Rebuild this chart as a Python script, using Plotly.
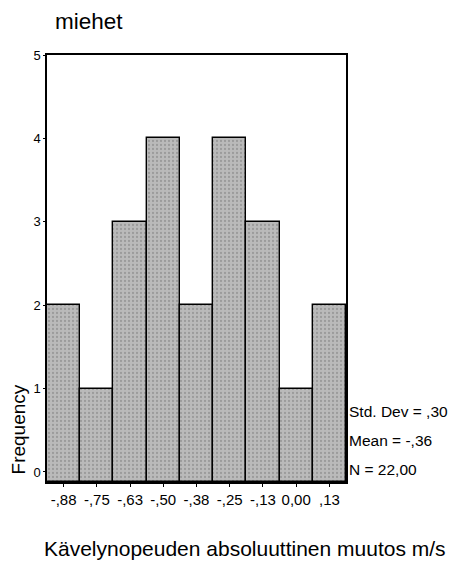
import plotly.graph_objects as go

bin_centers = [-0.875, -0.75, -0.625, -0.5, -0.375, -0.25, -0.125, 0.0, 0.125]
frequencies = [2, 1, 3, 4, 2, 4, 3, 1, 2]
tick_labels = ["-,88", "-,75", "-,63", "-,50", "-,38", "-,25", "-,13", "0,00", ",13"]
stats_lines = ["Std. Dev = ,30", "Mean = -,36", "N = 22,00"]

FONT = "Arial, Liberation Sans, sans-serif"
Y_MIN = -0.12

fig = go.Figure()
fig.add_trace(go.Bar(
    x=bin_centers, y=[f - Y_MIN for f in frequencies], base=Y_MIN, width=0.125,
    marker=dict(color="#b4b4b4", line=dict(color="black", width=1.4),
                pattern=dict(shape=".", fgcolor="#7a7a7a", bgcolor="#bababa", size=4, solidity=0.25)),
    showlegend=False, hoverinfo="skip",
))

# page body has an 8px default margin, so the figure is sized to fit the 456x570 window
fig.update_layout(
    width=448, height=562,
    margin=dict(l=39, r=110, t=47, b=88),
    paper_bgcolor="white", plot_bgcolor="white",
    font=dict(family=FONT, color="black"),
    bargap=0,
    xaxis=dict(range=[-0.9375, 0.1875], tickvals=bin_centers, ticktext=tick_labels,
               showline=True, linecolor="black", linewidth=1.5, mirror=True, automargin=False,
               ticks="outside", ticklen=3, tickcolor="black", showgrid=False, zeroline=False,
               tickfont=dict(size=15, family=FONT)),
    yaxis=dict(range=[Y_MIN, 5.0], tickvals=[0, 1, 2, 3, 4, 5],
               showline=True, linecolor="black", linewidth=1.5, mirror=True, automargin=False,
               ticks="outside", ticklen=2, tickcolor="black", showgrid=False, zeroline=False,
               tickfont=dict(size=13, family=FONT)),
)

fig.add_annotation(text="miehet", xref="paper", yref="paper", x=0, xshift=6, y=1.0, yshift=19,
                   xanchor="left", yanchor="bottom", showarrow=False,
                   font=dict(size=22.5, family=FONT))
fig.add_annotation(text="Frequency", xref="paper", yref="paper", x=0, xshift=-29, y=0.123,
                   xanchor="center", yanchor="middle", textangle=-90, showarrow=False,
                   font=dict(size=19, family=FONT))
for i, line in enumerate(stats_lines):
    fig.add_annotation(text=line, xref="paper", yref="paper", x=1.0, xshift=1,
                       y=0.165 - i * 0.068, xanchor="left", yanchor="middle", showarrow=False,
                       font=dict(size=15.5, family=FONT))
fig.add_annotation(text="Kävelynopeuden absoluuttinen muutos m/s", xref="paper", yref="paper",
                   x=0, xshift=-5, y=0, yshift=-66, xanchor="left", yanchor="middle",
                   showarrow=False, font=dict(size=21, family=FONT))

fig.write_html("out.html")
